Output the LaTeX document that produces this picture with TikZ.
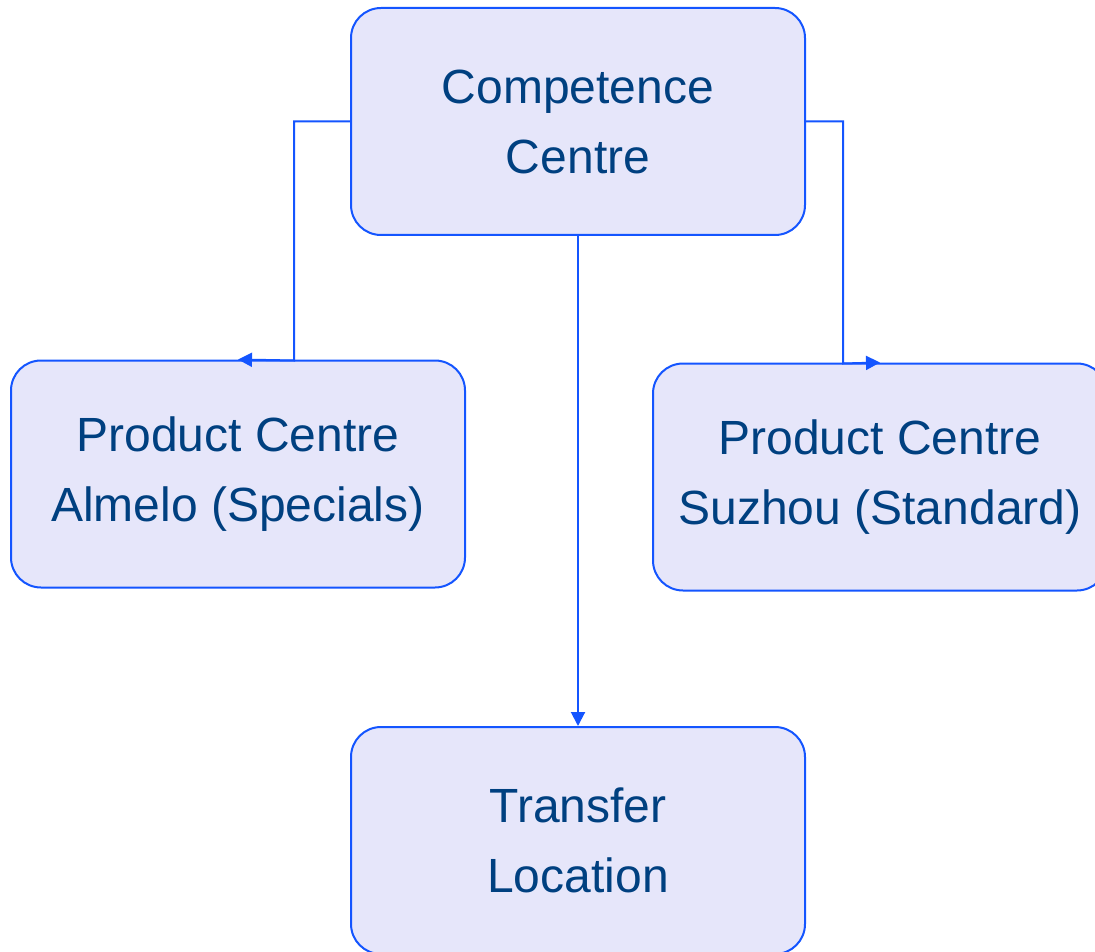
\documentclass[tikz,border=0pt]{standalone}
\usepackage{fontspec}
\setmainfont{Liberation Sans}
\usetikzlibrary{arrows.meta}

\definecolor{boxfill}{RGB}{230,230,250}
\definecolor{boxline}{RGB}{20,85,255}
\definecolor{boxtext}{RGB}{0,64,128}

\tikzset{every picture/.style={line width=2pt}}
\tikzset{
  centrebox/.style={draw=boxline, fill=boxfill, rounded corners=30, minimum width=454, minimum height=227, align=center, text=boxtext, font=\fontsize{48}{70}\selectfont, inner sep=0pt},
  link/.style={draw=boxline, -{Triangle[length=14pt,width=14pt]}}
}

\begin{document}
\begin{tikzpicture}[x=1pt,y=1pt,yscale=-1,xscale=1]
\useasboundingbox (0,0) rectangle (1095,952);
\clip (0,0) rectangle (1095,952);

%Shape: Rounded Rectangle
\node [centrebox] (comp) at (578,121.5) {Competence\\Centre};
%Shape: Rounded Rectangle
\node [centrebox] (almelo) at (238,474) {Product Centre\\Almelo (Specials)};
%Shape: Rounded Rectangle
\node [centrebox] (suzhou) at (880,477) {Product Centre\\Suzhou (Standard)};
%Shape: Rounded Rectangle
\node [centrebox] (transfer) at (578,840.5) {Transfer\\Location};

%Connectors
\coordinate (lbend) at (294,360.5);
\coordinate (rbend) at (843,363.5);
\draw [link] (comp.west) -| (lbend) -- (almelo.north);
\draw [link] (comp.east) -| (rbend) -- (suzhou.north);
\draw [link] (comp.south) -- (transfer.north);

\end{tikzpicture}
\end{document}
